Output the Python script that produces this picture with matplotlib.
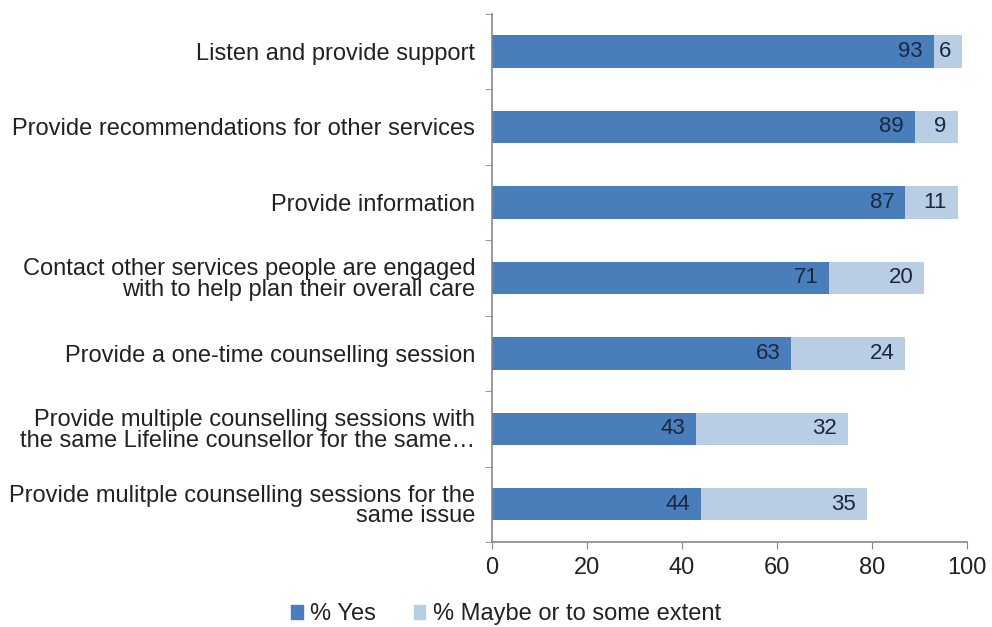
import matplotlib
matplotlib.use("Agg")
import matplotlib.pyplot as plt
from matplotlib.patches import Patch

plt.rcParams['font.family'] = ['Liberation Sans', 'DejaVu Sans']

categories = [
    "Listen and provide support",
    "Provide recommendations for other services",
    "Provide information",
    "Contact other services people are engaged\nwith to help plan their overall care",
    "Provide a one-time counselling session",
    "Provide multiple counselling sessions with\nthe same Lifeline counsellor for the same…",
    "Provide mulitple counselling sessions for the\nsame issue",
]
yes_vals = [93, 89, 87, 71, 63, 43, 44]
maybe_vals = [6, 9, 11, 20, 24, 32, 35]
series_names = ["% Yes", "% Maybe or to some extent"]
xticks = [0, 20, 40, 60, 80, 100]

c_yes = "#4a7ebb"
c_maybe = "#b9cde5"
txt = "#222222"
lab = "#1a2740"
fs = 17

fig = plt.figure(figsize=(9.92, 6.27), dpi=100)
ax = fig.add_axes([0.496, 0.1356, 0.479, 0.8424])

ypos = list(range(len(categories)))
bh = 0.43
ax.barh(ypos, yes_vals, height=bh, color=c_yes, label=series_names[0])
ax.barh(ypos, maybe_vals, left=yes_vals, height=bh, color=c_maybe, label=series_names[1])

for i, (y, m) in enumerate(zip(yes_vals, maybe_vals)):
    ax.annotate(str(y), xy=(y, i), xytext=(-8, 0), textcoords="offset points",
                ha="right", va="center", fontsize=16, color=lab)
    ax.annotate(str(m), xy=(y + m, i), xytext=(-8, 0), textcoords="offset points",
                ha="right", va="center", fontsize=16, color=lab)

ax.set_xlim(0, 100)
ax.set_ylim(len(categories) - 0.5, -0.5)
ax.set_xticks(xticks)
ax.set_xticklabels([str(t) for t in xticks], fontsize=fs, color=txt)
ax.set_yticks(ypos)
ax.set_yticklabels(categories, fontsize=fs, color=txt, linespacing=0.9)
ax.tick_params(axis='y', length=0, pad=12)
ax.set_yticks([i + 0.5 for i in range(-1, len(categories))], minor=True)
ax.tick_params(axis='y', which='minor', length=5, color="#888888")
ax.tick_params(axis='x', length=5, color="#888888", pad=6)
for s in ["top", "right"]:
    ax.spines[s].set_visible(False)
for s in ["left", "bottom"]:
    ax.spines[s].set_color("#888888")
    ax.spines[s].set_linewidth(1.2)

handles = [Patch(color=c_yes), Patch(color=c_maybe)]
fig.legend(handles, series_names, loc="center", bbox_to_anchor=(0.51, 0.02),
           ncol=2, frameon=False, fontsize=fs, handlelength=0.5, handleheight=0.5,
           handletextpad=0.3, columnspacing=1.6, labelcolor=txt)

fig.savefig("out.png", dpi=100, facecolor="white")
